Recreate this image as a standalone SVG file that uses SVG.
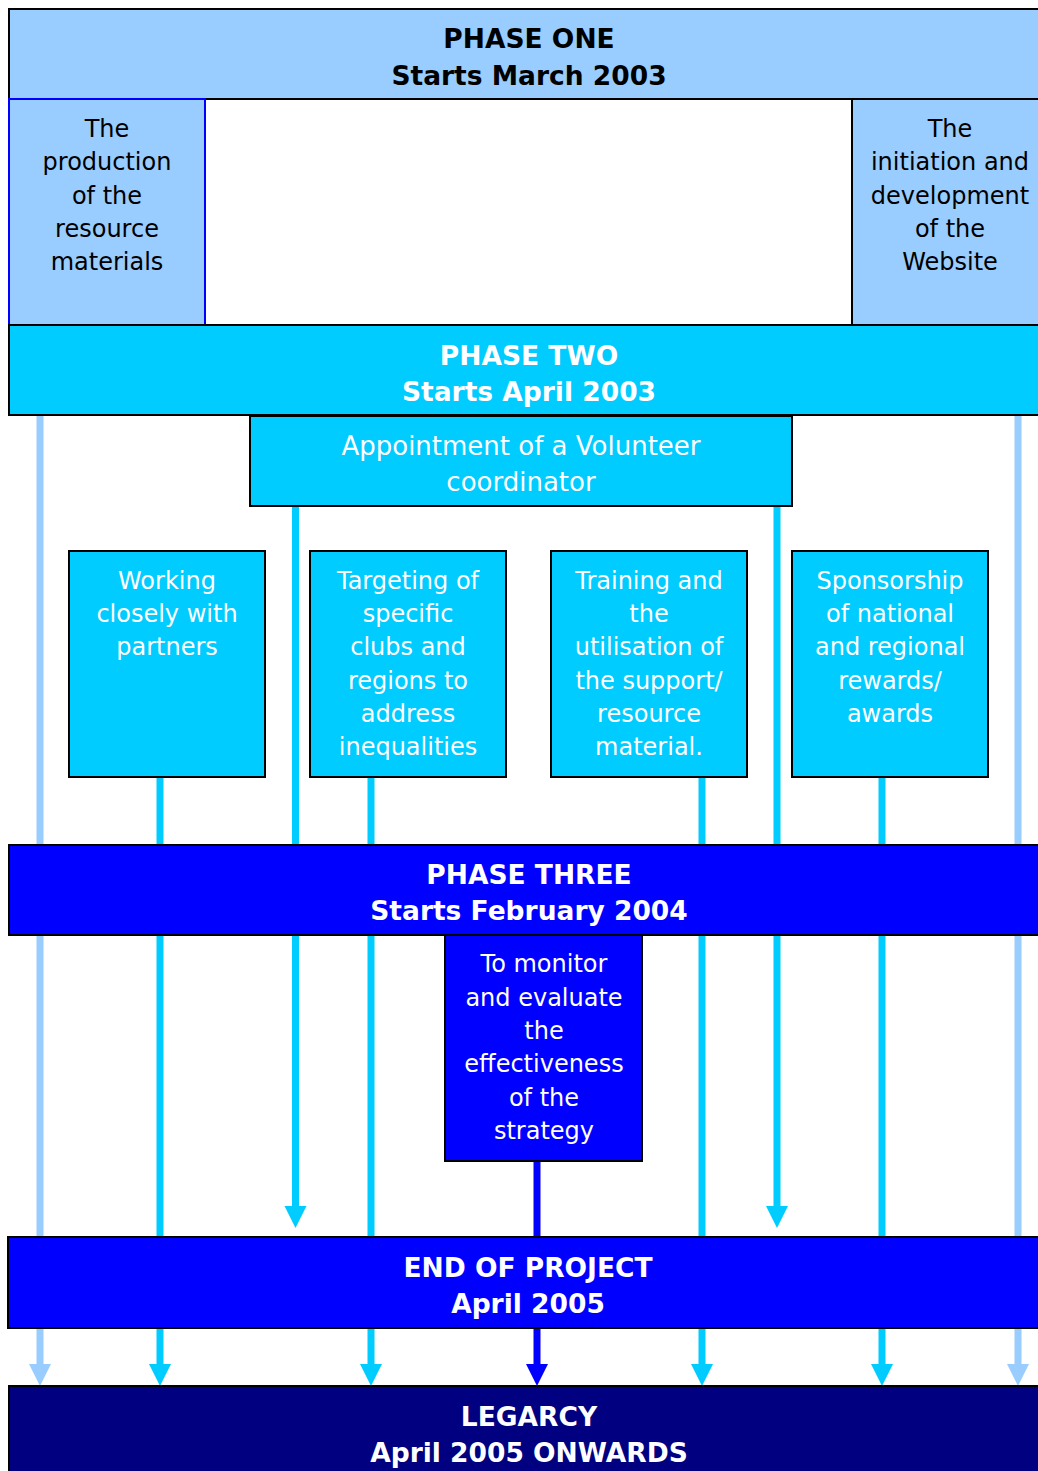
<svg xmlns="http://www.w3.org/2000/svg" width="1038" height="1471" viewBox="0 0 1038 1471">
<style>
  .box { stroke: #000; stroke-width: 2; }
  .p1 { fill: #99CCFF; }
  .p2 { fill: #00CCFF; }
  .p3 { fill: #0000FF; }
  .p4 { fill: #000080; }
  text { font-family: "DejaVu Sans", Verdana, sans-serif; text-anchor: middle; }
  .hd { font-size: 26.5px; font-weight: bold; }
  .bk { fill: #000; }
  .wt { fill: #fff; }
  .t24 { font-size: 24px; }
  .t26 { font-size: 26px; }
  .c-lb { stroke: #99CCFF; stroke-width: 7; fill: none; }
  .c-cy { stroke: #00CCFF; stroke-width: 7; fill: none; }
  .c-bl { stroke: #0000FF; stroke-width: 7; fill: none; }
  .h-lb { fill: #99CCFF; }
  .h-cy { fill: #00CCFF; }
  .h-bl { fill: #0000FF; }
</style>
<rect width="1038" height="1471" fill="#fff"/>
<g id="connectors">
  <line class="c-lb" x1="40" y1="415" x2="40" y2="1366"/>
  <polygon class="h-lb" points="29,1364 51,1364 40,1386"/>
  <line class="c-lb" x1="1018" y1="415" x2="1018" y2="1366"/>
  <polygon class="h-lb" points="1007,1364 1029,1364 1018,1386"/>
  <line class="c-cy" x1="160" y1="777" x2="160" y2="1366"/>
  <polygon class="h-cy" points="149,1364 171,1364 160,1386"/>
  <line class="c-cy" x1="371" y1="777" x2="371" y2="1366"/>
  <polygon class="h-cy" points="360,1364 382,1364 371,1386"/>
  <line class="c-cy" x1="702" y1="777" x2="702" y2="1366"/>
  <polygon class="h-cy" points="691,1364 713,1364 702,1386"/>
  <line class="c-cy" x1="882" y1="777" x2="882" y2="1366"/>
  <polygon class="h-cy" points="871,1364 893,1364 882,1386"/>
  <line class="c-cy" x1="295.5" y1="506" x2="295.5" y2="1208"/>
  <polygon class="h-cy" points="284.5,1206 306.5,1206 295.5,1228"/>
  <line class="c-cy" x1="777" y1="506" x2="777" y2="1208"/>
  <polygon class="h-cy" points="766,1206 788,1206 777,1228"/>
  <line class="c-bl" x1="537" y1="1161" x2="537" y2="1366"/>
  <polygon class="h-bl" points="526,1364 548,1364 537,1386"/>
</g>
<g id="phase-one">
  <rect class="box p1" x="9" y="9" width="1045" height="90"/>
  <text class="hd bk" x="529" y="48">PHASE ONE</text>
  <text class="hd bk" x="529" y="85">Starts March 2003</text>
</g>
<g id="resource-materials">
  <rect class="p1" x="9" y="99" width="196" height="226" stroke="#0000FF" stroke-width="2"/>
  <text class="t24 bk" x="107" y="137">The</text>
  <text class="t24 bk" x="107" y="170">production</text>
  <text class="t24 bk" x="107" y="203.5">of the</text>
  <text class="t24 bk" x="107" y="237">resource</text>
  <text class="t24 bk" x="107" y="270">materials</text>
</g>
<g id="website">
  <rect class="box p1" x="852" y="99" width="200" height="226"/>
  <text class="t24 bk" x="950" y="137">The</text>
  <text class="t24 bk" x="950" y="170">initiation and</text>
  <text class="t24 bk" x="950" y="203.5">development</text>
  <text class="t24 bk" x="950" y="237">of the</text>
  <text class="t24 bk" x="950" y="270">Website</text>
</g>
<g id="phase-two">
  <rect class="box p2" x="9" y="325" width="1045" height="90"/>
  <text class="hd wt" x="529" y="365">PHASE TWO</text>
  <text class="hd wt" x="529" y="401">Starts April 2003</text>
</g>
<g id="volunteer-coordinator">
  <rect class="box p2" x="250" y="416" width="542" height="90"/>
  <text class="t26 wt" x="521" y="455">Appointment of a Volunteer</text>
  <text class="t26 wt" x="521" y="491">coordinator</text>
</g>
<g id="partners">
  <rect class="box p2" x="69" y="551" width="196" height="226"/>
  <text class="t24 wt" x="167" y="589">Working</text>
  <text class="t24 wt" x="167" y="622">closely with</text>
  <text class="t24 wt" x="167" y="655">partners</text>
</g>
<g id="targeting">
  <rect class="box p2" x="310" y="551" width="196" height="226"/>
  <text class="t24 wt" x="408" y="589">Targeting of</text>
  <text class="t24 wt" x="408" y="622">specific</text>
  <text class="t24 wt" x="408" y="655">clubs and</text>
  <text class="t24 wt" x="408" y="689">regions to</text>
  <text class="t24 wt" x="408" y="722">address</text>
  <text class="t24 wt" x="408" y="755">inequalities</text>
</g>
<g id="training">
  <rect class="box p2" x="551" y="551" width="196" height="226"/>
  <text class="t24 wt" x="649" y="589">Training and</text>
  <text class="t24 wt" x="649" y="622">the</text>
  <text class="t24 wt" x="649" y="655">utilisation of</text>
  <text class="t24 wt" x="649" y="689">the support/</text>
  <text class="t24 wt" x="649" y="722">resource</text>
  <text class="t24 wt" x="649" y="755">material.</text>
</g>
<g id="sponsorship">
  <rect class="box p2" x="792" y="551" width="196" height="226"/>
  <text class="t24 wt" x="890" y="589">Sponsorship</text>
  <text class="t24 wt" x="890" y="622">of national</text>
  <text class="t24 wt" x="890" y="655">and regional</text>
  <text class="t24 wt" x="890" y="689">rewards/</text>
  <text class="t24 wt" x="890" y="722">awards</text>
</g>
<g id="phase-three">
  <rect class="box p3" x="9" y="845" width="1045" height="90"/>
  <text class="hd wt" x="529" y="884">PHASE THREE</text>
  <text class="hd wt" x="529" y="920">Starts February 2004</text>
</g>
<g id="monitor">
  <rect class="box p3" x="445" y="935" width="197" height="226"/>
  <text class="t24 wt" x="544" y="972">To monitor</text>
  <text class="t24 wt" x="544" y="1006">and evaluate</text>
  <text class="t24 wt" x="544" y="1039">the</text>
  <text class="t24 wt" x="544" y="1072">effectiveness</text>
  <text class="t24 wt" x="544" y="1106">of the</text>
  <text class="t24 wt" x="544" y="1139">strategy</text>
</g>
<g id="end-of-project">
  <rect class="box p3" x="8" y="1237" width="1046" height="91"/>
  <text class="hd wt" x="528" y="1277">END OF PROJECT</text>
  <text class="hd wt" x="528" y="1313">April 2005</text>
</g>
<g id="legacy">
  <rect class="box p4" x="9" y="1386" width="1045" height="100"/>
  <text class="hd wt" x="529" y="1426">LEGARCY</text>
  <text class="hd wt" x="529" y="1462">April 2005 ONWARDS</text>
</g>
</svg>
